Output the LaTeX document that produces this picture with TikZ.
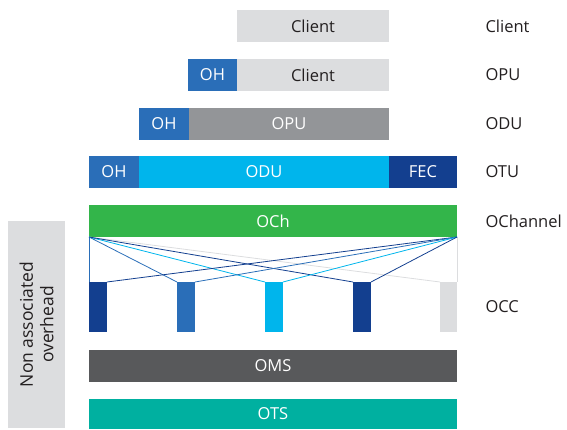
\documentclass[tikz,border=0pt]{standalone}
\usepackage{fontspec}
\setmainfont{Open Sans}
\definecolor{dkblue}{HTML}{133F8F}
\definecolor{mdblue}{HTML}{2A6EB8}
\definecolor{cyanb}{HTML}{00B5EC}
\definecolor{ltgray}{HTML}{DCDDDF}
\definecolor{mdgray}{HTML}{939598}
\definecolor{dkgray}{HTML}{58595B}
\definecolor{teal2}{HTML}{00B0A0}
\definecolor{green2}{HTML}{33B54A}
\definecolor{txt}{HTML}{231F20}
\begin{document}
\begin{tikzpicture}[x=1pt,y=1pt,
  box/.style={inner sep=0pt, outer sep=0pt, anchor=south west, font=\fontsize{16.5}{19}\selectfont},
  lab/.style={anchor=west, font=\fontsize{16.5}{19}\selectfont, text=txt},
  link/.style={line width=0.8pt}]
\useasboundingbox (0,0) rectangle (567,429);
% row 1
\node[box, fill=ltgray, text=txt, minimum width=152, minimum height=32] (c1) at (237,387) {Client};
% row 2
\node[box, fill=mdblue, text=white, minimum width=49, minimum height=32] (oh2) at (188,338) {OH};
\node[box, fill=ltgray, text=txt, minimum width=152, minimum height=32] (c2) at (237,338) {Client};
% row 3
\node[box, fill=mdblue, text=white, minimum width=50, minimum height=32] (oh3) at (139,289) {OH};
\node[box, fill=mdgray, text=white, minimum width=200, minimum height=32] (opu) at (189,289) {OPU};
% row 4
\node[box, fill=mdblue, text=white, minimum width=50, minimum height=32] (oh4) at (89,241) {OH};
\node[box, fill=cyanb, text=white, minimum width=250, minimum height=32] (odu) at (139,241) {ODU};
\node[box, fill=dkblue, text=white, minimum width=68, minimum height=32] (fec) at (389,241) {FEC};
% OCh
\node[box, fill=green2, text=white, minimum width=368, minimum height=32] (och) at (89,192) {OCh};
% OCC bars
\node[box, fill=dkblue, minimum width=18, minimum height=50] (b1) at (89,97) {};
\node[box, fill=mdblue, minimum width=18, minimum height=50] (b2) at (177,97) {};
\node[box, fill=cyanb, minimum width=18, minimum height=50] (b3) at (265,97) {};
\node[box, fill=dkblue, minimum width=18, minimum height=50] (b4) at (353,97) {};
\node[box, fill=ltgray, minimum width=17, minimum height=50] (b5) at (440,97) {};
% OMS, OTS
\node[box, fill=dkgray, text=white, minimum width=368, minimum height=32] (oms) at (89,47) {OMS};
\node[box, fill=teal2, text=white, minimum width=368, minimum height=30] (ots) at (89,0) {OTS};
% links
\draw[link, ltgray] (och.south west) -- (b5.north west);
\draw[link, ltgray] (och.south east) -- (b5.north east);
\draw[link, mdblue] (och.south west) -- (b1.north west);
\draw[link, mdblue] (och.south west) -- (b2.north west);
\draw[link, cyanb] (och.south west) -- (b3.north west);
\draw[link, dkblue] (och.south west) -- (b4.north west);
\draw[link, dkblue] (och.south east) -- (b1.north east);
\draw[link, mdblue] (och.south east) -- (b2.north east);
\draw[link, cyanb] (och.south east) -- (b3.north east);
\draw[link, dkblue] (och.south east) -- (b4.north east);
% non associated overhead
\node[box, fill=ltgray, minimum width=57, minimum height=207] (nao) at (8,1) {};
\node[rotate=90, align=center, text=txt, font=\fontsize{17.5}{20.5}\selectfont] (naot) at (nao.center) {Non associated\\overhead};
% labels
\node[lab] (l1) at (482,403) {Client};
\node[lab] (l2) at (482,354) {OPU};
\node[lab] (l3) at (482,305) {ODU};
\node[lab] (l4) at (482,257) {OTU};
\node[lab] (l5) at (482,208) {OChannel};
\node[lab] (l6) at (482,122) {OCC};
\end{tikzpicture}
\end{document}
